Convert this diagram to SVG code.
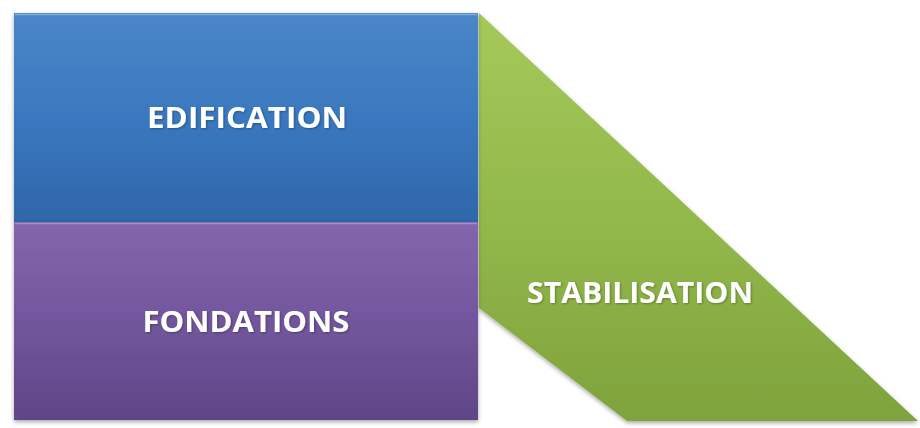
<svg xmlns="http://www.w3.org/2000/svg" width="920" height="428" viewBox="0 0 920 428">
<defs>
<linearGradient id="gBlue" x1="0" y1="0" x2="0" y2="1">
<stop offset="0" stop-color="#4a86c8"/>
<stop offset="0.5" stop-color="#3a78bf"/>
<stop offset="1" stop-color="#2f66aa"/>
</linearGradient>
<linearGradient id="gPurple" x1="0" y1="0" x2="0" y2="1">
<stop offset="0" stop-color="#8466ad"/>
<stop offset="0.5" stop-color="#72569d"/>
<stop offset="1" stop-color="#5f4687"/>
</linearGradient>
<linearGradient id="gGreen" x1="0" y1="0" x2="0" y2="1">
<stop offset="0" stop-color="#a5c95a"/>
<stop offset="0.5" stop-color="#93b84b"/>
<stop offset="1" stop-color="#7fa33c"/>
</linearGradient>
<filter id="sh" x="-5%" y="-5%" width="110%" height="112%">
<feGaussianBlur in="SourceAlpha" stdDeviation="2"/>
<feOffset dx="0" dy="2" result="b"/>
<feComponentTransfer><feFuncA type="linear" slope="0.35"/></feComponentTransfer>
<feMerge><feMergeNode/><feMergeNode in="SourceGraphic"/></feMerge>
</filter>
<filter id="ts" x="-5%" y="-20%" width="110%" height="140%">
<feGaussianBlur in="SourceAlpha" stdDeviation="1"/>
<feOffset dx="1" dy="1"/>
<feComponentTransfer><feFuncA type="linear" slope="0.3"/></feComponentTransfer>
<feMerge><feMergeNode/><feMergeNode in="SourceGraphic"/></feMerge>
</filter>
</defs>
<style>
.lbl{font-family:"Open Sans","Liberation Sans",sans-serif;font-weight:bold;font-size:29px;fill:#ffffff;text-anchor:middle}
</style>
<g id="stabilisation">
<polygon points="479,13 918,421 627,421 479,308" fill="url(#gGreen)" filter="url(#sh)"/>
<text class="lbl" x="640" y="303" textLength="226" lengthAdjust="spacingAndGlyphs" filter="url(#ts)">STABILISATION</text>
</g>
<g id="edification">
<rect x="14" y="13" width="464" height="209" fill="url(#gBlue)" filter="url(#sh)"/>
<line x1="15" y1="14.5" x2="477" y2="14.5" stroke="#7eaee0" stroke-width="1.5"/>
<text class="lbl" x="247" y="128" textLength="200" lengthAdjust="spacingAndGlyphs" filter="url(#ts)">EDIFICATION</text>
</g>
<g id="fondations">
<rect x="14" y="222" width="464" height="198" fill="url(#gPurple)" filter="url(#sh)"/>
<line x1="15" y1="223.5" x2="477" y2="223.5" stroke="#a58ccb" stroke-width="1.5"/>
<text class="lbl" x="246" y="332" textLength="207" lengthAdjust="spacingAndGlyphs" filter="url(#ts)">FONDATIONS</text>
</g>
<g id="connectors"/>
</svg>
